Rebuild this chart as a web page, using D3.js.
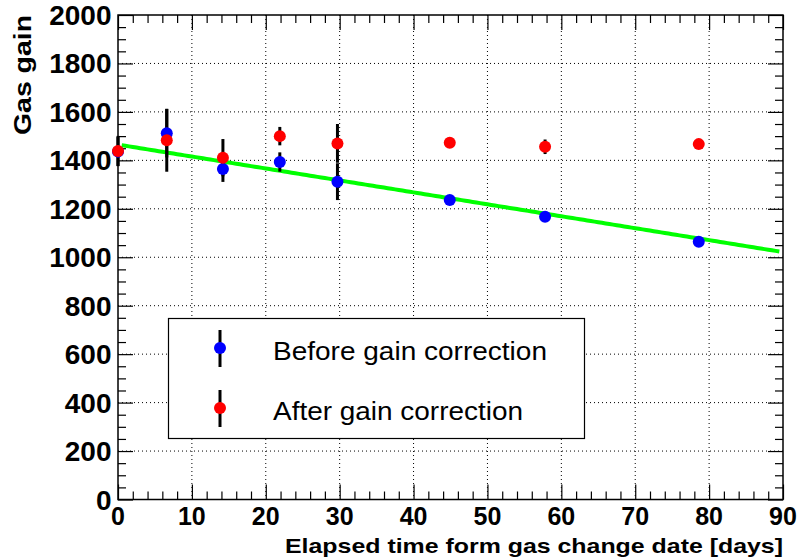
<!DOCTYPE html>
<html>
<head>
<meta charset="utf-8">
<script src="https://cdn.jsdelivr.net/npm/d3@7"></script>
<style>
  html, body { margin: 0; padding: 0; background: #fff; }
  svg { display: block; }
  text { font-family: "Liberation Sans", Arial, Helvetica, sans-serif; }
</style>
</head>
<body>
<svg id="chart" width="803" height="560"></svg>
<script>
// ---- data ----
const days = [0, 6.6, 14.2, 21.9, 29.7, 44.9, 57.8, 78.6];
const beforeGain = [1436, 1512, 1364, 1393, 1312, 1236, 1167, 1064];
const beforeErr  = [60, 100, 53, 40, 76, 12, 12, 12];
const afterGain  = [1439, 1483, 1411, 1500, 1470, 1473, 1456, 1467];
const afterErr   = [62, 130, 77, 38, 80, 12, 30, 12];
const fitIntercept = 1465;
const fitSlope = -4.93;
const fitRange = [0, 90];
const xTicks = [0, 10, 20, 30, 40, 50, 60, 70, 80, 90];
const yTicks = [0, 200, 400, 600, 800, 1000, 1200, 1400, 1600, 1800, 2000];
const seriesNames = ["Before gain correction", "After gain correction"];
const seriesColors = ["#0000ff", "#ff0000"];
const xTitle = "Elapsed time form gas change date [days]";
const yTitle = "Gas gain";

// ---- layout ----
const L = 118, R = 783, T = 15, B = 499.5;
const svg = d3.select("#chart");
const x = d3.scaleLinear().domain([0, 90]).range([L, R]);
const y = d3.scaleLinear().domain([0, 2000]).range([B, T]);

// grid
const grid = svg.append("g").attr("stroke", "#000").attr("stroke-width", 1).attr("stroke-dasharray", "1,3");
grid.selectAll("line.gx").data(xTicks.slice(1, -1)).enter().append("line")
  .attr("x1", d => x(d)).attr("x2", d => x(d)).attr("y1", T).attr("y2", B);
grid.selectAll("line.gy").data(yTicks.slice(1, -1)).enter().append("line")
  .attr("x1", L).attr("x2", R).attr("y1", d => y(d)).attr("y2", d => y(d));

// axes with minor ticks (major 15px, minor 8px), mirrored on top/right
const xMinor = d3.range(0, 90.001, 2).filter(v => v % 10 !== 0);
const yMinor = d3.range(0, 2000.001, 50).filter(v => v % 200 !== 0);
function axisLines(g, axisGen) { g.call(axisGen); g.selectAll("text").remove(); g.select(".domain").remove(); g.selectAll("line").attr("stroke", "#000").attr("stroke-width", 1.2); }

svg.append("g").attr("transform", `translate(0,${B})`).call(g => axisLines(g, d3.axisTop(x).tickValues(xTicks).tickSize(15)));
svg.append("g").attr("transform", `translate(0,${B})`).call(g => axisLines(g, d3.axisTop(x).tickValues(xMinor).tickSize(8)));
svg.append("g").attr("transform", `translate(0,${T})`).call(g => axisLines(g, d3.axisBottom(x).tickValues(xTicks).tickSize(15)));
svg.append("g").attr("transform", `translate(0,${T})`).call(g => axisLines(g, d3.axisBottom(x).tickValues(xMinor).tickSize(8)));
svg.append("g").attr("transform", `translate(${L},0)`).call(g => axisLines(g, d3.axisRight(y).tickValues(yTicks).tickSize(15)));
svg.append("g").attr("transform", `translate(${L},0)`).call(g => axisLines(g, d3.axisRight(y).tickValues(yMinor).tickSize(8)));
svg.append("g").attr("transform", `translate(${R},0)`).call(g => axisLines(g, d3.axisLeft(y).tickValues(yTicks).tickSize(15)));
svg.append("g").attr("transform", `translate(${R},0)`).call(g => axisLines(g, d3.axisLeft(y).tickValues(yMinor).tickSize(8)));

// frame
svg.append("rect").attr("x", L).attr("y", T).attr("width", R - L).attr("height", B - T)
  .attr("fill", "none").attr("stroke", "#000").attr("stroke-width", 1.5);

// tick labels
svg.append("g").selectAll("text").data(xTicks).enter().append("text")
  .attr("x", d => x(d)).attr("y", 525).attr("text-anchor", "middle")
  .attr("font-size", 25).attr("font-weight", "bold").text(d => d);
svg.append("g").selectAll("text").data(yTicks).enter().append("text")
  .attr("x", 111.5).attr("y", d => y(d) + 10).attr("text-anchor", "end")
  .attr("font-size", 28).attr("font-weight", "bold").text(d => d);

// titles
svg.append("text").attr("x", R).attr("y", 553).attr("text-anchor", "end")
  .attr("font-size", 21).attr("font-weight", "bold")
  .attr("textLength", 498).attr("lengthAdjust", "spacingAndGlyphs").text(xTitle);
svg.append("text").attr("transform", "translate(30.5,15) rotate(-90)").attr("text-anchor", "end")
  .attr("font-size", 23.5).attr("font-weight", "bold")
  .attr("textLength", 120).attr("lengthAdjust", "spacingAndGlyphs").text(yTitle);

// fit line
const line = d3.line().x(d => x(d)).y(d => y(fitIntercept + fitSlope * d));
svg.append("path").datum(d3.range(fitRange[0] + 0.5, fitRange[1] - 0.4, 0.5))
  .attr("d", line).attr("fill", "none").attr("stroke", "#00ff00").attr("stroke-width", 4);

// series
const series = [
  { vals: beforeGain, errs: beforeErr, color: seriesColors[0] },
  { vals: afterGain, errs: afterErr, color: seriesColors[1] }
];
series.forEach(s => {
  svg.append("g").selectAll("line").data(days).enter().append("line")
    .attr("x1", (d) => x(d)).attr("x2", d => x(d))
    .attr("y1", (d, i) => y(s.vals[i] - s.errs[i])).attr("y2", (d, i) => y(s.vals[i] + s.errs[i]))
    .attr("stroke", "#000").attr("stroke-width", 3);
});
series.forEach(s => {
  svg.append("g").selectAll("circle").data(days).enter().append("circle")
    .attr("cx", d => x(d)).attr("cy", (d, i) => y(s.vals[i])).attr("r", 6)
    .attr("fill", s.color);
});

// legend
const lg = svg.append("g");
lg.append("rect").attr("x", 168.5).attr("y", 318.5).attr("width", 416).attr("height", 120)
  .attr("fill", "#fff").attr("stroke", "#000").attr("stroke-width", 1.2);
const legY = [348, 408];
seriesNames.forEach((name, i) => {
  lg.append("line").attr("x1", 220).attr("x2", 220).attr("y1", legY[i] - 18).attr("y2", legY[i] + 19)
    .attr("stroke", "#000").attr("stroke-width", 3);
  lg.append("circle").attr("cx", 220).attr("cy", legY[i]).attr("r", 6).attr("fill", seriesColors[i]);
  lg.append("text").attr("x", 273).attr("y", legY[i] + 12).attr("font-size", 25)
    .attr("textLength", i === 0 ? 274 : 250).attr("lengthAdjust", "spacingAndGlyphs").text(name);
});
</script>
</body>
</html>
